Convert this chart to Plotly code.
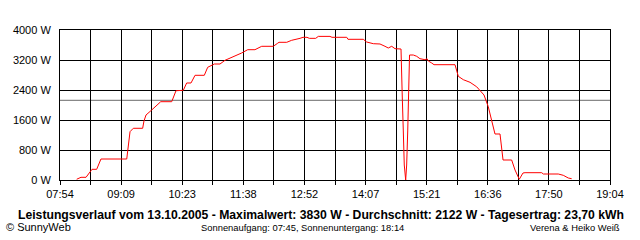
import plotly.graph_objects as go

# Time in minutes since midnight, power in W
time_min = [494.3, 497.1, 499.6, 505.7, 509.3, 513.0, 518.7, 521.5, 523.9, 555.3,
            556.8, 558.1, 559.3, 563.3, 574.7, 576.3, 578.8, 585.7, 590.9, 596.7,
            610.1, 612.9, 615.3, 624.2, 628.3, 633.6, 638.5, 649.8, 653.9, 662.0,
            668.9, 675.0, 687.2, 695.3, 702.7, 711.5, 719.7, 733.8, 738.7, 740.8,
            750.2, 756.2, 766.4, 770.0, 774.9, 777.7, 785.5, 788.7, 802.9, 805.3,
            823.3, 824.8, 843.5, 847.6, 855.7, 863.8, 869.9, 873.9, 878.1, 882.1,
            889.4, 890.2, 891.0, 892.2, 893.4, 895.1, 896.3, 897.6, 898.8, 899.8,
            904.4, 908.5, 912.5, 918.6, 921.1, 922.7, 926.8, 929.6, 955.2, 957.3,
            959.2, 965.3, 973.5, 981.6, 987.7, 990.5, 995.7, 999.9, 1002.7, 1003.9,
            1010.0, 1012.1, 1013.7, 1024.2, 1028.3, 1033.5, 1038.0, 1040.5, 1060.8, 1062.8,
            1081.0, 1087.1, 1093.2, 1097.3]
power_w = [20, 53, 72, 72, 195, 285, 285, 427, 560, 560,
           853, 1120, 1288, 1379, 1379, 1573, 1733, 1867, 1973, 2088,
           2088, 2267, 2381, 2392, 2587, 2587, 2792, 2792, 3005, 3093,
           3093, 3192, 3299, 3387, 3475, 3475, 3565, 3565, 3640, 3672,
           3672, 3725, 3778, 3805, 3805, 3778, 3778, 3830, 3830, 3805,
           3805, 3752, 3752, 3680, 3635, 3627, 3565, 3520, 3565, 3502,
           3493, 3040, 2187, 1307, 400, 0, 400, 1307, 2133, 3333,
           3333, 3299, 3235, 3208, 3235, 3173, 3120, 3075, 3075, 2899,
           2765, 2675, 2605, 2485, 2339, 2267, 1955, 1600, 1288, 1227,
           1227, 800, 533, 533, 267, 19, 187, 195, 195, 160,
           160, 125, 53, 35]

average_w = 2122
x_start, x_end = 474, 1144  # 07:54 .. 19:04
tick_labels = ["07:54", "09:09", "10:23", "11:38", "12:52", "14:07",
               "15:21", "16:36", "17:50", "19:04"]
y_ticks = [0, 800, 1600, 2400, 3200, 4000]

title_text = ("Leistungsverlauf vom 13.10.2005 - Maximalwert: 3830 W - "
              "Durchschnitt: 2122 W - Tagesertrag: 23,70 kWh")
footer_left = "© SunnyWeb"
footer_mid = "Sonnenaufgang: 07:45, Sonnenuntergang: 18:14"
footer_right = "Verena & Heiko Weiß"

n_grid = 2 * (len(tick_labels) - 1)
step = (x_end - x_start) / n_grid
tickvals = [x_start + i * step for i in range(n_grid + 1)]
ticktext = [tick_labels[i // 2] if i % 2 == 0 else "" for i in range(n_grid + 1)]

FONT = "Liberation Sans"

fig = go.Figure()
fig.add_trace(go.Scatter(x=time_min, y=power_w, mode="lines",
                         line=dict(color="#ff0000", width=1), hoverinfo="skip"))
fig.add_shape(type="line", xref="x", yref="y", x0=x_start, x1=x_end,
              y0=average_w, y1=average_w, line=dict(color="#888888", width=1.2),
              layer="below")

fig.update_layout(
    width=640, height=240,
    margin=dict(l=60, r=30, t=30, b=60),
    paper_bgcolor="white", plot_bgcolor="white",
    showlegend=False,
    font=dict(family=FONT, size=11, color="black"),
)
fig.update_xaxes(
    range=[x_start, x_end], tickmode="array", tickvals=tickvals, ticktext=ticktext,
    showgrid=True, gridcolor="black", gridwidth=1,
    showline=True, linecolor="black", linewidth=1, mirror=True,
    ticks="outside", ticklen=4, tickcolor="black", tickwidth=1,
    zeroline=False, tickfont=dict(family=FONT, size=11),
)
fig.update_yaxes(
    range=[0, 4000], tickmode="array", tickvals=y_ticks,
    ticktext=[f"{v} W" for v in y_ticks],
    showgrid=True, gridcolor="black", gridwidth=1,
    showline=True, linecolor="black", linewidth=1, mirror=True,
    ticks="", zeroline=False, ticklabelstandoff=6,
    tickfont=dict(family=FONT, size=11),
)

def px_x(px):
    return (px - 60) / 550

def px_y(py):
    return (180 - py) / 150

fig.add_annotation(text=f"<b>{title_text}</b>", xref="paper", yref="paper",
                   x=px_x(320.5), y=px_y(215), xanchor="center", yanchor="middle",
                   showarrow=False, font=dict(family=FONT, size=12.2, color="black"))
fig.add_annotation(text=footer_left, xref="paper", yref="paper",
                   x=px_x(4), y=px_y(227), xanchor="left", yanchor="middle",
                   showarrow=False, font=dict(family=FONT, size=11, color="black"))
fig.add_annotation(text=footer_mid, xref="paper", yref="paper",
                   x=px_x(302), y=px_y(227), xanchor="center", yanchor="middle",
                   showarrow=False, font=dict(family=FONT, size=9.4, color="black"))
fig.add_annotation(text=footer_right, xref="paper", yref="paper",
                   x=px_x(622), y=px_y(227), xanchor="right", yanchor="middle",
                   showarrow=False, font=dict(family=FONT, size=9.4, color="black"))

fig.write_html("out.html")
